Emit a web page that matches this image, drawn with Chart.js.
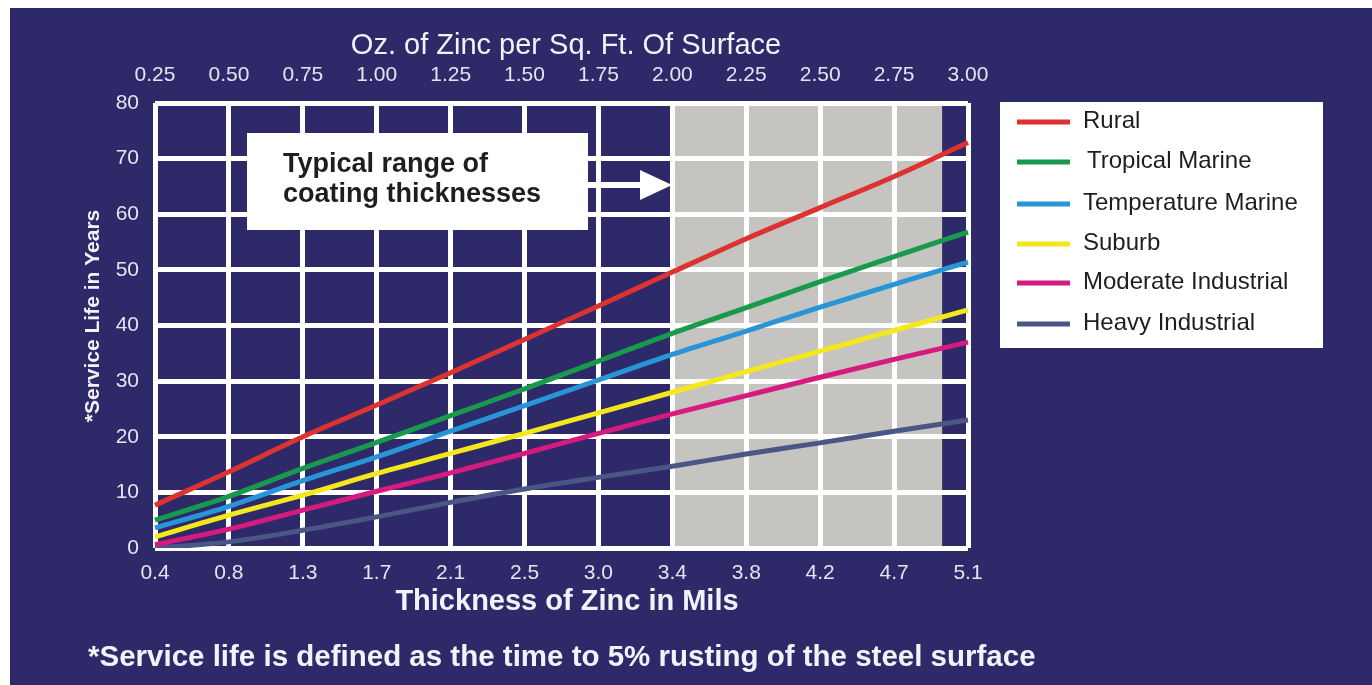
<!DOCTYPE html>
<html>
<head>
<meta charset="utf-8">
<title>Zinc Coating Service Life</title>
<script src="https://cdn.jsdelivr.net/npm/chart.js@4.4.0/dist/chart.umd.min.js"></script>
<style>
  html, body { margin: 0; padding: 0; background: #fff; }
  canvas { display: block; }
</style>
</head>
<body>
<canvas id="zincChart" width="1372" height="685"></canvas>
<script>
// Axis labels (bottom: mils, top: ounces per sq. ft.)
const milsLabels = ['0.4', '0.8', '1.3', '1.7', '2.1', '2.5', '3.0', '3.4', '3.8', '4.2', '4.7', '5.1'];
const ozLabels = ['0.25', '0.50', '0.75', '1.00', '1.25', '1.50', '1.75', '2.00', '2.25', '2.50', '2.75', '3.00'];

const rural = [7.7, 13.7, 20.0, 25.7, 31.5, 37.5, 43.5, 49.6, 55.6, 61.2, 66.8, 72.9];
const tropicalMarine = [5.0, 9.3, 14.3, 19.0, 23.8, 28.6, 33.6, 38.6, 43.2, 47.9, 52.4, 56.8];
const temperatureMarine = [3.6, 7.5, 12.1, 16.4, 21.0, 25.6, 30.2, 34.8, 39.0, 43.3, 47.4, 51.4];
const suburb = [2.0, 5.9, 9.5, 13.4, 17.0, 20.6, 24.3, 28.0, 31.7, 35.4, 39.1, 42.8];
const moderateIndustrial = [0.6, 3.4, 6.8, 10.2, 13.5, 17.0, 20.6, 24.1, 27.4, 30.7, 33.9, 37.0];
const heavyIndustrial = [0.0, 1.1, 3.2, 5.6, 8.2, 10.6, 12.7, 14.7, 16.9, 18.9, 21.0, 23.0];

const seriesNames = ['Rural', 'Tropical Marine', 'Temperature Marine', 'Suburb', 'Moderate Industrial', 'Heavy Industrial'];
const seriesData = [rural, tropicalMarine, temperatureMarine, suburb, moderateIndustrial, heavyIndustrial];
const seriesColors = ['#dc3330', '#179a4b', '#2896d6', '#f4e81c', '#d71a7e', '#4a5683'];

// Typical coating range, in mils-label index units (3.4 mils to just past 4.7)
const typicalRange = [7, 10.65];

const COLORS = {
    navy: '#2e2a6a',
    gray: '#c6c4c1',
    grid: '#ffffff',
    tick: '#e4e4ee',
    title: '#f2f2f8',
    dark: '#1e1e1e'
};
const FONT = '"Liberation Sans", Arial, sans-serif';

Chart.defaults.font.family = FONT;

// Background panel + shaded "typical range" band, drawn under the grid
const backdropPlugin = {
    id: 'backdrop',
    beforeDraw(chart) {
        const { ctx, chartArea, scales } = chart;
        ctx.save();
        ctx.fillStyle = '#ffffff';
        ctx.fillRect(0, 0, chart.width, chart.height);
        ctx.fillStyle = COLORS.navy;
        ctx.fillRect(10, 8, chart.width - 10, chart.height - 8);

        const x0 = scales.x.getPixelForValue(typicalRange[0]);
        const x1 = scales.x.getPixelForValue(typicalRange[1]);
        ctx.fillStyle = COLORS.gray;
        ctx.fillRect(x0, chartArea.top, x1 - x0, chartArea.bottom - chartArea.top);
        ctx.restore();
    }
};

// Titles, callout box, legend and footnote
const decorPlugin = {
    id: 'decor',
    afterDraw(chart) {
        const { ctx } = chart;
        ctx.save();

        // axis titles
        ctx.fillStyle = COLORS.title;
        ctx.textAlign = 'center';
        ctx.textBaseline = 'middle';
        ctx.font = `29px ${FONT}`;
        ctx.fillText('Oz. of Zinc per Sq. Ft. Of Surface', 566, 46);
        ctx.font = `bold 29px ${FONT}`;
        ctx.fillText('Thickness of Zinc in Mils', 567, 602);

        ctx.save();
        ctx.translate(93, 316);
        ctx.rotate(-Math.PI / 2);
        ctx.font = `bold 21px ${FONT}`;
        ctx.fillText('*Service Life in Years', 0, 0);
        ctx.restore();

        // footnote
        ctx.textAlign = 'left';
        ctx.font = `bold 29.5px ${FONT}`;
        ctx.fillText('*Service life is defined as the time to 5% rusting of the steel surface', 88, 658);

        // callout box with arrow
        ctx.fillStyle = '#ffffff';
        ctx.fillRect(247, 133, 341, 97);
        ctx.fillRect(588, 182, 54, 6);
        ctx.beginPath();
        ctx.moveTo(640, 170);
        ctx.lineTo(672, 185);
        ctx.lineTo(640, 200);
        ctx.closePath();
        ctx.fill();

        ctx.fillStyle = COLORS.dark;
        ctx.textBaseline = 'alphabetic';
        ctx.font = `bold 27px ${FONT}`;
        ctx.fillText('Typical range of', 283, 172);
        ctx.fillText('coating thicknesses', 283, 202);

        // legend
        ctx.fillStyle = '#ffffff';
        ctx.fillRect(1000, 102, 323, 246);
        const rowY = [121, 161, 203, 243, 282, 323];
        ctx.textBaseline = 'middle';
        ctx.font = `24px ${FONT}`;
        seriesNames.forEach((name, i) => {
            ctx.strokeStyle = seriesColors[i];
            ctx.lineWidth = 5;
            ctx.beginPath();
            ctx.moveTo(1017, rowY[i] + 1);
            ctx.lineTo(1070, rowY[i] + 1);
            ctx.stroke();
            ctx.fillStyle = COLORS.dark;
            ctx.fillText(name, i === 1 ? 1087 : 1083, rowY[i]);
        });

        ctx.restore();
    }
};

const tickFont = { size: 21 };

new Chart(document.getElementById('zincChart').getContext('2d'), {
    type: 'line',
    data: {
        labels: milsLabels,
        datasets: seriesNames.map((name, i) => ({
            label: name,
            data: seriesData[i],
            borderColor: seriesColors[i],
            backgroundColor: seriesColors[i],
            borderWidth: 5,
            pointRadius: 0,
            cubicInterpolationMode: 'monotone',
            fill: false
        }))
    },
    options: {
        responsive: false,
        animation: false,
        layout: {
            padding: { left: 95, right: 404, top: 43, bottom: 97 }
        },
        plugins: {
            legend: { display: false },
            tooltip: { enabled: false }
        },
        scales: {
            x: {
                type: 'category',
                labels: milsLabels,
                offset: false,
                position: 'bottom',
                grid: { color: COLORS.grid, lineWidth: 5, drawTicks: false },
                border: { display: false },
                ticks: { color: COLORS.tick, font: tickFont, padding: 13, autoSkip: false, maxRotation: 0 },
                afterFit: scale => { scale.height = 40; }
            },
            x2: {
                type: 'category',
                labels: ozLabels,
                offset: false,
                position: 'top',
                grid: { display: false, drawTicks: false },
                border: { display: false },
                ticks: { color: COLORS.tick, font: tickFont, padding: 15, autoSkip: false, maxRotation: 0 },
                afterFit: scale => { scale.height = 60; }
            },
            y: {
                min: 0,
                max: 80,
                grid: { color: COLORS.grid, lineWidth: 5, drawTicks: false },
                border: { display: false },
                ticks: { stepSize: 10, color: COLORS.tick, font: tickFont, padding: 16 },
                afterFit: scale => { scale.width = 60; }
            }
        }
    },
    plugins: [backdropPlugin, decorPlugin]
});
</script>
</body>
</html>
